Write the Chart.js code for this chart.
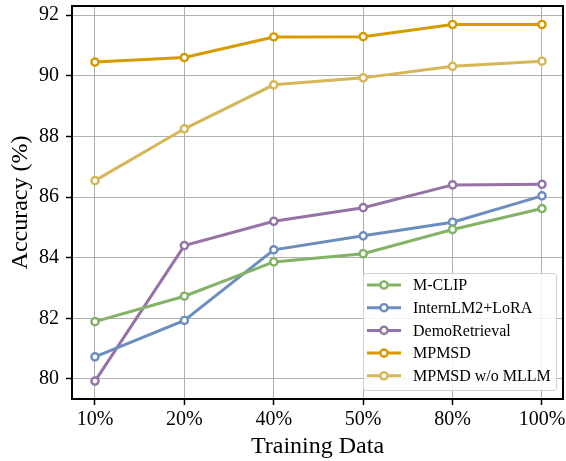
<!DOCTYPE html>
<html>
<head>
<meta charset="utf-8">
<script src="https://cdn.jsdelivr.net/npm/chart.js@4.4.1/dist/chart.umd.min.js"></script>
<style>
	html, body { margin: 0; padding: 0; background: #fff; }
	#wrap { width: 566px; height: 461px; }
</style>
</head>
<body>
<div id="wrap"><canvas id="chart" width="566" height="461"></canvas></div>
<script>
// data
var categories = ['10%', '20%', '40%', '50%', '80%', '100%'];
var yTicks = [80, 82, 84, 86, 88, 90, 92];

var mclip = [81.89, 82.73, 83.86, 84.13, 84.93, 85.62];
var internLora = [80.73, 81.93, 84.26, 84.72, 85.17, 86.04];
var demoRetrieval = [79.93, 84.40, 85.20, 85.65, 86.40, 86.42];
var mpmsd = [90.45, 90.60, 91.28, 91.29, 91.69, 91.69];
var mpmsdNoMllm = [86.54, 88.25, 89.70, 89.93, 90.31, 90.48];

var seriesNames = ['M-CLIP', 'InternLM2+LoRA', 'DemoRetrieval', 'MPMSD', 'MPMSD w/o MLLM'];
var seriesValues = [mclip, internLora, demoRetrieval, mpmsd, mpmsdNoMllm];
var seriesColors = ['#82b366', '#6c8ebf', '#9673a6', '#d79b00', '#d6b656'];

var FONT = "'Liberation Serif', 'Times New Roman', serif";

function make_dataset(i)
{
	return {
		label: seriesNames[i]
	,	data: seriesValues[i].map(function(v, k) { return {x: k, y: v}; })
	,	borderColor: seriesColors[i]
	,	backgroundColor: seriesColors[i]
	,	borderWidth: 3
	,	pointRadius: 3.6
	,	pointBorderWidth: 2.4
	,	pointBackgroundColor: '#ffffff'
	,	pointBorderColor: seriesColors[i]
	,	tension: 0
	};
}

// frame round the plot area, like a matplotlib box
var framePlugin = {
	id: 'frame',
	afterDatasetsDraw: function(chart)
	{
		var a = chart.chartArea, ctx = chart.ctx;
		ctx.save();
		ctx.strokeStyle = '#000';
		ctx.lineWidth = 2;
		ctx.strokeRect(a.left, a.top, a.right - a.left, a.bottom - a.top);
		ctx.restore();
	}
};

// legend box in the lower right corner of the plot
var legendPlugin = {
	id: 'boxLegend',
	afterDraw: function(chart)
	{
		var ctx = chart.ctx;
		var x = 363, y = 273, w = 193, h = 117;
		ctx.save();
		ctx.beginPath();
		ctx.roundRect(x + 0.5, y + 0.5, w, h, 3);
		ctx.fillStyle = 'rgba(255,255,255,0.85)';
		ctx.fill();
		ctx.strokeStyle = '#d0d0d0';
		ctx.lineWidth = 1;
		ctx.stroke();

		ctx.font = '16px ' + FONT;
		ctx.textBaseline = 'middle';
		ctx.textAlign = 'left';
		chart.data.datasets.forEach(function(ds, i)
		{
			var cy = 285 + i * 22.7;
			ctx.strokeStyle = ds.borderColor;
			ctx.lineWidth = 3;
			ctx.beginPath();
			ctx.moveTo(367, cy);
			ctx.lineTo(401, cy);
			ctx.stroke();
			ctx.beginPath();
			ctx.arc(384, cy, 3.6, 0, Math.PI * 2);
			ctx.fillStyle = '#fff';
			ctx.fill();
			ctx.lineWidth = 2.4;
			ctx.stroke();
			ctx.fillStyle = '#000';
			ctx.fillText(ds.label, 413, cy + 1);
		});
		ctx.restore();
	}
};

new Chart(
	document.getElementById('chart')
,	{
		type: 'line'
	,	data: { datasets: seriesValues.map(function(v, i) { return make_dataset(i); }) }
	,	plugins: [framePlugin, legendPlugin]
	,	options:
		{
			responsive: false
		,	animation: false
		,	devicePixelRatio: 1
		,	layout: { autoPadding: false, padding: { left: 0, top: 6, right: 3, bottom: 0 } }
		,	plugins: { legend: { display: false }, tooltip: { enabled: false } }
		,	scales:
			{
				x:
				{
					type: 'linear'
				,	min: -0.257
				,	max: 5.235
				,	afterBuildTicks: function(s) { s.ticks = categories.map(function(c, i) { return {value: i}; }); }
				,	afterFit: function(s) { s.height = 62; s.paddingLeft = 0; s.paddingRight = 0; }
				,	ticks:
					{
						callback: function(v) { return categories[v]; }
					,	color: '#000'
					,	font: { family: FONT, size: 20 }
					,	padding: 3
					,	maxRotation: 0
					,	autoSkip: false
					}
				,	grid: { color: '#b0b0b0', lineWidth: 1, tickColor: '#000', tickLength: 6, tickWidth: 1.5 }
				,	border: { display: false }
				,	title:
					{
						display: true
					,	text: 'Training Data'
					,	color: '#000'
					,	font: { family: FONT, size: 24 }
					,	padding: { top: 0, bottom: 0 }
					}
				}
			,	y:
				{
					type: 'linear'
				,	min: 79.34
				,	max: 92.3
				,	afterBuildTicks: function(s) { s.ticks = yTicks.map(function(v) { return {value: v}; }); }
				,	afterFit: function(s) { s.width = 72; s.paddingTop = 0; s.paddingBottom = 0; }
				,	ticks:
					{
						color: '#000'
					,	font: { family: FONT, size: 20 }
					,	padding: 7
					}
				,	grid: { color: '#b0b0b0', lineWidth: 1, tickColor: '#000', tickLength: 6, tickWidth: 1.5 }
				,	border: { display: false }
				,	title:
					{
						display: true
					,	text: 'Accuracy (%)'
					,	color: '#000'
					,	font: { family: FONT, size: 24 }
					,	padding: { top: 6, bottom: 0 }
					}
				}
			}
		}
	}
);
</script>
</body>
</html>
